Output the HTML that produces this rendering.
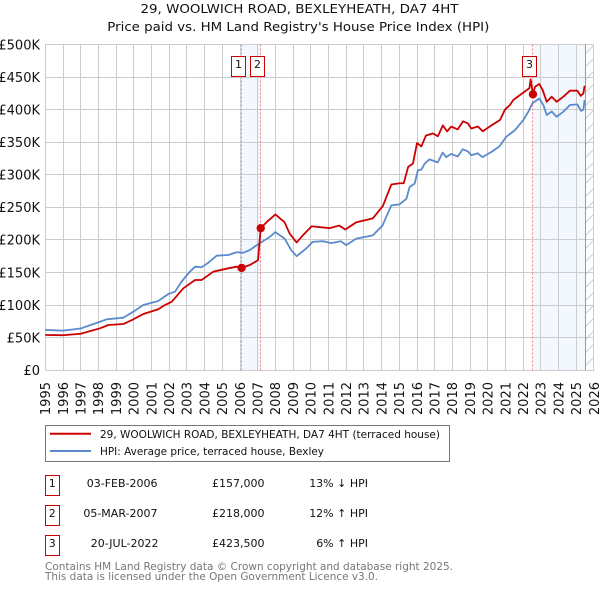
<!DOCTYPE html>
<html>
<head>
<meta charset="utf-8">
<title>29, Woolwich Road price chart</title>
<style>
html,body{margin:0;padding:0;background:#fff;width:600px;height:590px;overflow:hidden}
svg{display:block}
text{font-family:"DejaVu Sans",sans-serif;fill:#111}
</style>
</head>
<body>
<svg id="chart" xmlns="http://www.w3.org/2000/svg" width="600" height="590" viewBox="0 0 600 590">
<defs>
<pattern id="hatch" patternUnits="userSpaceOnUse" width="13" height="13" patternTransform="translate(0,2)">
<path d="M-2,15 L15,-2" stroke="#ccc" stroke-width="1" fill="none"/>
</pattern>
</defs>
<text x="299.5" y="13" text-anchor="middle" font-size="12.5" textLength="318" lengthAdjust="spacingAndGlyphs">29, WOOLWICH ROAD, BEXLEYHEATH, DA7 4HT</text>
<text x="298.3" y="31" text-anchor="middle" font-size="12.5" textLength="382" lengthAdjust="spacingAndGlyphs">Price paid vs. HM Land Registry's House Price Index (HPI)</text>
<g id="plot"></g>

<rect x="45.5" y="425.5" width="404" height="36" fill="#fff" stroke="#777" stroke-width="1"/>
<line x1="50" x2="91" y1="433.7" y2="433.7" stroke="#cc0000" stroke-width="2"/>
<text x="100" y="438" font-size="11" textLength="340" lengthAdjust="spacingAndGlyphs">29, WOOLWICH ROAD, BEXLEYHEATH, DA7 4HT (terraced house)</text>
<line x1="50" x2="91" y1="451" y2="451" stroke="#5b8bcc" stroke-width="2"/>
<text x="100" y="455" font-size="11" textLength="224" lengthAdjust="spacingAndGlyphs">HPI: Average price, terraced house, Bexley</text>

<g>
<rect x="45.5" y="475.5" width="14" height="20" fill="#fff" stroke="#cc0000" stroke-width="1"/>
<text x="52.3" y="487" text-anchor="middle" font-size="11">1</text>
<text x="157.5" y="487" text-anchor="end" font-size="11">03-FEB-2006</text>
<text x="264.5" y="487" text-anchor="end" font-size="11">£157,000</text>
<text x="368" y="487" text-anchor="end" font-size="11">13% ↓ HPI</text>
</g>
<g>
<rect x="45.5" y="505.5" width="14" height="20" fill="#fff" stroke="#cc0000" stroke-width="1"/>
<text x="52.3" y="517" text-anchor="middle" font-size="11">2</text>
<text x="157.5" y="517" text-anchor="end" font-size="11">05-MAR-2007</text>
<text x="264.5" y="517" text-anchor="end" font-size="11">£218,000</text>
<text x="368" y="517" text-anchor="end" font-size="11">12% ↑ HPI</text>
</g>
<g>
<rect x="45.5" y="535.5" width="14" height="20" fill="#fff" stroke="#cc0000" stroke-width="1"/>
<text x="52.3" y="547" text-anchor="middle" font-size="11">3</text>
<text x="158.5" y="547" text-anchor="end" font-size="11">20-JUL-2022</text>
<text x="264.5" y="547" text-anchor="end" font-size="11">£423,500</text>
<text x="368" y="547" text-anchor="end" font-size="11">6% ↑ HPI</text>
</g>
<text x="45" y="570" font-size="11" style="fill:#777" textLength="408" lengthAdjust="spacingAndGlyphs">Contains HM Land Registry data © Crown copyright and database right 2025.</text>
<text x="45" y="580" font-size="11" style="fill:#777" textLength="333" lengthAdjust="spacingAndGlyphs">This data is licensed under the Open Government Licence v3.0.</text>
</svg>
<script>
const yearTicks = [1995,1996,1997,1998,1999,2000,2001,2002,2003,2004,2005,2006,2007,2008,2009,2010,2011,2012,2013,2014,2015,2016,2017,2018,2019,2020,2021,2022,2023,2024,2025,2026];
const priceTicks = [0,50,100,150,200,250,300,350,400,450,500];
const priceTickLabels = ["£0","£50K","£100K","£150K","£200K","£250K","£300K","£350K","£400K","£450K","£500K"];

const hpiDates = [1995,1996,1997,1998.09,1998.47,1999.41,1999.97,2000.54,2001.38,2001.95,2002.33,2002.7,2003.08,2003.46,2003.83,2004.21,2004.68,2005.34,2005.81,2006.19,2006.56,2007,2007.68,2008,2008.52,2008.9,2009.2,2009.75,2010.1,2010.7,2011.15,2011.7,2012,2012.57,2013.5,2014.05,2014.55,2015.02,2015.4,2015.58,2015.87,2016.05,2016.25,2016.43,2016.7,2017.17,2017.45,2017.65,2017.93,2018.3,2018.58,2018.87,2019.07,2019.43,2019.7,2020.2,2020.66,2021.03,2021.54,2022.01,2022.29,2022.52,2022.91,2023.14,2023.33,2023.61,2023.89,2024.27,2024.64,2025.06,2025.27,2025.4,2025.47];
const hpiValues = [61.8,60.8,64,74.4,78.1,80.6,89.8,100,106.2,117,120.5,135.9,148.7,158.9,158,165,175.8,176.8,181,180.4,184.5,193,204.5,212,202,184,175,187,197,198,195,198,192,202,207,222,253,254.6,263,281,286.6,306.7,308,317,323.6,319,334,327,332,328,339,336,330,333,327,335,343.6,358,368.7,384,396.8,409.7,417,407,391.7,397,389,396.8,407,408,398,400,414.7];

const priceDates = [1995,1996,1997,1998.09,1998.56,1999.41,1999.97,2000.54,2001.38,2001.76,2002.14,2002.8,2003.46,2003.83,2004.49,2005.34,2005.81,2006.09,2006.56,2007.02,2007.17,2007.57,2008,2008.52,2008.8,2009.2,2009.55,2010.05,2011.07,2011.6,2011.95,2012.57,2013.5,2014.07,2014.55,2015.02,2015.25,2015.5,2015.77,2016,2016.25,2016.5,2016.9,2017.18,2017.46,2017.7,2017.93,2018.3,2018.6,2018.87,2019.07,2019.44,2019.72,2020.2,2020.69,2020.97,2021.25,2021.44,2021.82,2022.2,2022.35,2022.42,2022.55,2022.67,2022.91,2023.1,2023.33,2023.61,2023.89,2024.27,2024.64,2025.06,2025.25,2025.4,2025.47];
const priceValues = [54,53.7,56,64.3,69.4,70.9,78,86.3,93.5,100,105,125.7,138.4,138.4,151.2,156.4,158.9,157,161.5,169,218,229,239,227,210,196,207,221,218,222,216,227,233,252,285,287,287,312,317,348.6,343.6,360,363.5,359,375.7,366.6,374,369.6,382,379,371,374,366.7,375.7,384,400,407,414.7,422.4,430,432.7,446.5,423.5,435,439.3,430,412,419.8,412,419.8,429,429,421,425,436.7];

const saleDates = [2006.09,2007.17,2022.55];
const salePrices = [157,218,423.5];
const saleLabels = ["1","2","3"];
const dataEnd = 2025.5;

const NS = "http://www.w3.org/2000/svg";
const plot = document.getElementById("plot");
const xScale = year => 45.3 + (year - 1995) * 17.7;
const yScale = price => 370.2 - price * 0.6515;
const snap = v => Math.floor(v) + 0.5;

function add(tag, attrs, parent) {
  const el = document.createElementNS(NS, tag);
  for (const k in attrs) el.setAttribute(k, attrs[k]);
  (parent || plot).appendChild(el);
  return el;
}

// shaded ownership bands
const band1 = add("rect", {x:xScale(saleDates[0]), y:yScale(500), width:xScale(saleDates[1])-xScale(saleDates[0]), height:yScale(0)-yScale(500), fill:"#f3f7fe"});


const band2 = add("rect", {x:xScale(saleDates[2]), y:yScale(500), width:xScale(dataEnd)-xScale(saleDates[2]), height:yScale(0)-yScale(500), fill:"#f3f7fe"});


const hatch = add("rect", {x:xScale(dataEnd), y:yScale(500), width:xScale(2026)-xScale(dataEnd), height:yScale(0)-yScale(500), fill:"url(#hatch)"});



// grid and tick labels
priceTicks.forEach((p, i) => {
  const line = add("line", {x1:xScale(1995), x2:xScale(2026), y1:snap(yScale(p)), y2:snap(yScale(p)), stroke:"#ccc", "stroke-width":1});
  
  
  const label = add("text", {x:40, y:yScale(p)+4.8, "text-anchor":"end", "font-size":13});
  
  
  label.textContent = priceTickLabels[i];
});
yearTicks.forEach(year => {
  const x = xScale(year);
  const line = add("line", {x1:snap(x), x2:snap(x), y1:yScale(500), y2:yScale(0), stroke:"#ccc", "stroke-width":1});
  
  
  const label = add("text", {transform:"translate(" + (x+4.8) + ",382) rotate(-90)", "text-anchor":"end", "font-size":13});
  
  
  label.textContent = year;
});

const endLine = add("line", {x1:snap(xScale(dataEnd)), x2:snap(xScale(dataEnd)), y1:yScale(500), y2:yScale(0), stroke:"#999", "stroke-width":1});



// sale reference lines
saleDates.forEach(d => {
  const line = add("line", {x1:snap(xScale(d)), x2:snap(xScale(d)), y1:yScale(500), y2:yScale(0), stroke:"#f08080", "stroke-width":1, "stroke-dasharray":"2,2"});
  
  
});

// series
function pathFrom(dates, values) {
  return dates.map((d, i) => (i ? "L" : "M") + xScale(d).toFixed(2) + "," + yScale(values[i]).toFixed(2)).join(" ");
}
const hpiLine = add("path", {d:pathFrom(hpiDates, hpiValues), fill:"none", stroke:"#5b8bcc", "stroke-width":1.8, "stroke-linejoin":"round"});


const priceLine = add("path", {d:pathFrom(priceDates, priceValues), fill:"none", stroke:"#cc0000", "stroke-width":1.8, "stroke-linejoin":"round"});



// sale markers and number badges
saleDates.forEach((d, i) => {
  const marker = add("circle", {cx:xScale(d), cy:yScale(salePrices[i]), r:4.2, fill:"#cc0000"});
  
  
  const box = add("rect", {x:snap(xScale(d) - 10.5), y:56.5, width:14, height:20, fill:"#fff", stroke:"#cc0000", "stroke-width":1});
  
  
  const num = add("text", {x:snap(xScale(d) - 10.5) + 7, y:68, "text-anchor":"middle", "font-size":11});
  
  
  num.textContent = saleLabels[i];
});
</script>
</body>
</html>
